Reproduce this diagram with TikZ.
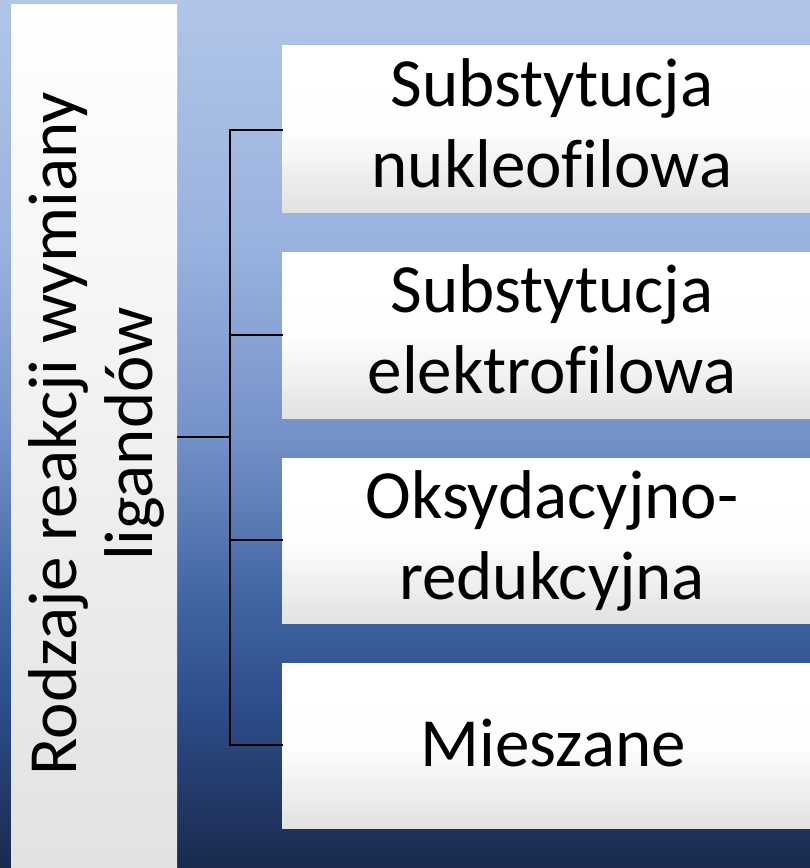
\documentclass[tikz,border=0pt]{standalone}
\usepackage{fontspec}
\setmainfont{Carlito}[Ligatures=NoCommon]
\definecolor{bgA}{HTML}{B1C5E8}
\definecolor{bgB}{HTML}{98B1DE}
\definecolor{bgC}{HTML}{7592C9}
\definecolor{bgD}{HTML}{4065A3}
\definecolor{bgE}{HTML}{2E4E8C}
\definecolor{bgF}{HTML}{1A2A4E}
\definecolor{boxlow}{HTML}{E2E2E2}
\tikzset{
  catbox/.style={top color=white, bottom color=boxlow, middle color=white!97!boxlow},
  lbl/.style={font=\fontsize{69}{81}\selectfont, align=center, inner sep=0pt, text=black, anchor=base},
  conn/.style={draw=black, line width=1.4pt}
}
\begin{document}
\begin{tikzpicture}[x=1pt,y=-1pt]
\useasboundingbox (0,0) rectangle (810,868);
% background
\shade[top color=bgA, bottom color=bgB] (0,0) rectangle (810,250.5);
\shade[top color=bgB, bottom color=bgC] (0,250) rectangle (810,434.5);
\shade[top color=bgC, bottom color=bgD] (0,434) rectangle (810,600.5);
\shade[top color=bgD, bottom color=bgE] (0,600) rectangle (810,700.5);
\shade[top color=bgE, bottom color=bgF] (0,700) rectangle (810,868);
% left box
\shade[top color=white, bottom color=boxlow] (11,4) rectangle (177,868);
\node[lbl, rotate=90, font=\fontsize{69}{76}\selectfont] (root) at (152,434) {Rodzaje reakcji wymiany\\ligandów};
\coordinate (rootE) at (177,437);
% right boxes
\shade[catbox] (282,45) rectangle (810,212);
\shade[catbox] (282,252) rectangle (810,418);
\shade[catbox] (282,458) rectangle (810,623);
\shade[catbox] (282,663) rectangle (810,828);
\node[lbl] (b1) at (552,187) {Substytucja\\nukleofilowa};
\node[lbl] (b2) at (552,393) {Substytucja\\elektrofilowa};
\node[lbl] (b3) at (552,599) {Oksydacyjno-\\redukcyjna};
\node[lbl] (b4) at (553,766) {Mieszane};
\coordinate (e1) at (282.5,130);
\coordinate (e2) at (282.5,335);
\coordinate (e3) at (282.5,540);
\coordinate (e4) at (282.5,745);
\coordinate (bus) at (230,437);
% connectors
\draw[conn] (rootE) -- (bus);
\draw[conn] (e1) -| (bus) |- (e4);
\draw[conn] (bus |- e2) -- (e2);
\draw[conn] (bus |- e3) -- (e3);
\end{tikzpicture}
\end{document}
